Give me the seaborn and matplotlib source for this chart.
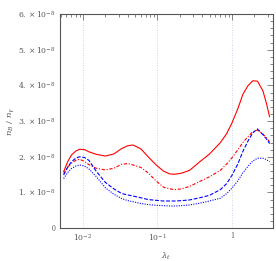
import numpy as np
import pandas as pd
import seaborn as sns
import matplotlib.pyplot as plt
from matplotlib.ticker import FixedLocator, LogLocator, NullFormatter

# values (in units of 1e-8)
lam = [0.0055, 0.0062, 0.007, 0.008, 0.009, 0.0105, 0.012, 0.015, 0.02, 0.026,
       0.033, 0.04, 0.047, 0.06, 0.075, 0.095, 0.12, 0.145, 0.17, 0.21,
       0.27, 0.37, 0.5, 0.7, 0.85, 1.0, 1.2, 1.4, 1.65, 1.9,
       2.2, 2.6, 2.9, 3.2]
red_solid = [1.58, 1.85, 2.05, 2.16, 2.21, 2.20, 2.14, 2.07, 2.02, 2.08,
             2.23, 2.31, 2.33, 2.22, 2.0, 1.78, 1.6, 1.52, 1.51, 1.54,
             1.62, 1.86, 2.08, 2.4, 2.65, 2.95, 3.35, 3.75, 4.0, 4.13,
             4.12, 3.85, 3.5, 3.12]
red_dashdot = [1.53, 1.70, 1.82, 1.9, 1.93, 1.87, 1.78, 1.68, 1.63, 1.68,
               1.79, 1.81, 1.77, 1.7, 1.55, 1.33, 1.15, 1.1, 1.08, 1.1,
               1.17, 1.31, 1.44, 1.62, 1.8, 1.97, 2.2, 2.4, 2.57, 2.7,
               2.75, 2.64, 2.53, 2.42]
blue_dashed = [1.49, 1.7, 1.86, 1.96, 2.0, 1.98, 1.9, 1.6, 1.28, 1.1,
               0.97, 0.93, 0.9, 0.85, 0.8, 0.78, 0.76, 0.76, 0.76, 0.77,
               0.79, 0.85, 0.92, 1.08, 1.25, 1.48, 1.8, 2.15, 2.45, 2.67,
               2.78, 2.62, 2.5, 2.37]
blue_dotted = [1.39, 1.55, 1.67, 1.74, 1.77, 1.74, 1.66, 1.45, 1.13, 0.95,
               0.83, 0.77, 0.74, 0.69, 0.66, 0.64, 0.63, 0.62, 0.62, 0.63,
               0.65, 0.7, 0.76, 0.84, 0.97, 1.12, 1.33, 1.55, 1.74, 1.88,
               1.96, 1.96, 1.92, 1.86]

sns.set_style("white")
plt.rcParams['font.family'] = ['Liberation Serif', 'DejaVu Serif']
plt.rcParams['mathtext.fontset'] = 'dejavuserif'

fig = plt.figure(figsize=(2.76, 2.61), dpi=100)
ax = fig.add_axes([0.217, 0.126, 0.772, 0.820])

styles = [(red_solid, 'red', '-'), (red_dashdot, 'red', (0, (3, 1.5, 1, 1.5))),
          (blue_dashed, 'blue', (0, (3.5, 1.5))), (blue_dotted, 'blue', (0, (1, 1.2)))]
for vals, c, ls in styles:
    df = pd.DataFrame({'lam': lam, 'v': np.array(vals) * 1e-8})
    sns.lineplot(data=df, x='lam', y='v', color=c, linestyle=ls, lw=0.8, ax=ax)

ax.set_xscale('log')
ax.set_xlim(0.0049, 3.55)
ax.set_ylim(0, 6e-8)

for g in [0.01, 0.1, 1]:
    ax.axvline(g, color='#b8c8e0', lw=0.6, ls=(0, (1, 2)), zorder=0)

gray = '#555555'
ax.yaxis.set_major_locator(FixedLocator([i * 1e-8 for i in range(7)]))
ax.yaxis.set_minor_locator(FixedLocator([i * 0.2e-8 for i in range(31)]))
ylabels = ['0'] + [r'$%d.\times10^{-8}$' % i for i in range(1, 7)]
ax.set_yticklabels(ylabels)
ax.xaxis.set_major_locator(FixedLocator([0.01, 0.1, 1]))
ax.xaxis.set_minor_locator(LogLocator(base=10, subs=np.arange(2, 10)))
ax.xaxis.set_minor_formatter(NullFormatter())
ax.set_xticklabels([r'$10^{-2}$', r'$10^{-1}$', '1'])

ax.tick_params(which='both', direction='in', top=True, right=True,
               colors=gray, labelsize=5.5, width=0.5, pad=3)
ax.tick_params(which='major', length=4)
ax.tick_params(which='minor', length=2)
for s in ax.spines.values():
    s.set_color(gray)
    s.set_linewidth(0.8)

ax.set_xlabel(r'$\lambda_t$', fontsize=6, color=gray, labelpad=5)
ax.set_ylabel(r'$n_B\ /\ n_\gamma$', fontsize=6, color=gray, labelpad=2)

plt.savefig('out.png', dpi=100)
